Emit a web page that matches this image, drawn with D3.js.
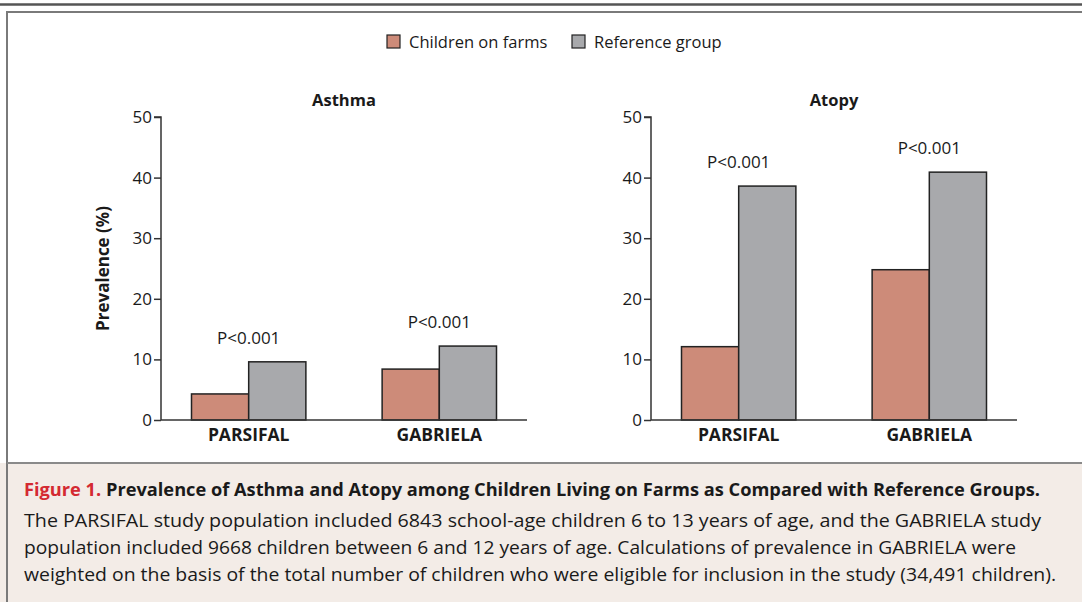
<!DOCTYPE html>
<html>
<head>
<meta charset="utf-8">
<script src="https://cdn.jsdelivr.net/npm/d3@7"></script>
<style>
  body { margin: 0; background: #fff; }
  svg text { font-family: "Open Sans", sans-serif; fill: #1a1a1a; }
</style>
</head>
<body>
<svg id="chart" width="1082" height="602"></svg>
<script>
const studies = ["PARSIFAL", "GABRIELA"];
const groups = ["Children on farms", "Reference group"];
const asthmaFarm = [4.3, 8.4];
const asthmaRef = [9.6, 12.2];
const atopyFarm = [12.1, 24.8];
const atopyRef = [38.6, 40.9];
const pLabels = ["P<0.001", "P<0.001"];
const yTicks = [0, 10, 20, 30, 40, 50];

const captionTitle = "Prevalence of Asthma and Atopy among Children Living on Farms as Compared with Reference Groups.";
const captionLines = [
  "The PARSIFAL study population included 6843 school-age children 6 to 13 years of age, and the GABRIELA study",
  "population included 9668 children between 6 and 12 years of age. Calculations of prevalence in GABRIELA were",
  "weighted on the basis of the total number of children who were eligible for inclusion in the study (34,491 children).",
];

const COLORS = { farm: "#cd8b79", ref: "#a8a9ac" };
const Y0 = 420, Y50 = 117;

const svg = d3.select("#chart");

// frame
svg.append("line").attr("x1", 0).attr("x2", 1082).attr("y1", 4.5).attr("y2", 4.5)
  .attr("stroke", "#555").attr("stroke-width", 2.5);
svg.append("rect").attr("x", 0).attr("y", 463).attr("width", 1082).attr("height", 139)
  .attr("fill", "#f3ece7");
svg.append("path").attr("d", "M7,610 V12 H1090")
  .attr("fill", "none").attr("stroke", "#7a7a7a").attr("stroke-width", 2);
svg.append("line").attr("x1", 7).attr("x2", 1082).attr("y1", 463).attr("y2", 463)
  .attr("stroke", "#8a8a8a").attr("stroke-width", 2);

// legend
const legendX = [387, 572];
const leg = svg.append("g").selectAll("g")
  .data(groups)
  .join("g")
  .attr("transform", (d, i) => `translate(${legendX[i]}, 35)`);
leg.append("rect").attr("width", 13).attr("height", 13)
  .attr("fill", (d, i) => i === 0 ? COLORS.farm : COLORS.ref)
  .attr("stroke", "#222").attr("stroke-width", 1.2);
leg.append("text").attr("x", 22).attr("y", 12.5)
  .style("font-size", "16.5px").text(d => d);

function drawPanel(left, right, title, farm, ref, showYLabel) {
  const g = svg.append("g");
  const y = d3.scaleLinear().domain([0, 50]).range([Y0, Y50]);
  const x0 = d3.scaleBand().domain(studies).range([left, right])
    .paddingInner(0.4).paddingOuter(0.16);
  const x1 = d3.scaleBand().domain(["farm", "ref"]).range([0, x0.bandwidth()]);

  const rows = studies.map((s, i) => ({ study: s, farm: farm[i], ref: ref[i], p: pLabels[i] }));

  const grp = g.selectAll("g.grp")
    .data(rows)
    .join("g")
    .attr("class", "grp")
    .attr("transform", d => `translate(${x0(d.study)},0)`);

  grp.selectAll("rect")
    .data(d => [{ key: "farm", value: d.farm }, { key: "ref", value: d.ref }])
    .join("rect")
    .attr("x", d => x1(d.key))
    .attr("y", d => y(d.value))
    .attr("width", x1.bandwidth())
    .attr("height", d => y(0) - y(d.value))
    .attr("fill", d => COLORS[d.key])
    .attr("stroke", "#222")
    .attr("stroke-width", 1.5);

  grp.append("text")
    .attr("x", x0.bandwidth() / 2)
    .attr("y", d => y(Math.max(d.farm, d.ref)) - 18)
    .attr("text-anchor", "middle")
    .style("font-size", "17px")
    .text(d => d.p);

  // axes
  const yAxis = g.append("g").attr("transform", `translate(${left},0)`)
    .call(d3.axisLeft(y).tickValues(yTicks).tickSize(7).tickPadding(2));
  yAxis.select(".domain").attr("d", `M-7,${Y50}H0V${Y0}`);
  const xAxis = g.append("g").attr("transform", `translate(0,${Y0})`)
    .call(d3.axisBottom(x0).tickSize(0).tickPadding(9));
  xAxis.select(".domain").attr("d", `M${left},0H${right}`);
  g.selectAll(".domain").attr("stroke", "#333").attr("stroke-width", 1.5);
  g.selectAll(".tick line").attr("stroke", "#333").attr("stroke-width", 1.5);
  yAxis.attr("font-size", null);
  yAxis.selectAll("text").style("font-size", "17px").attr("fill", "#1a1a1a")
    .style("font-family", "'Open Sans', sans-serif");
  xAxis.attr("font-size", null);
  xAxis.selectAll("text").style("font-size", "17.5px").style("font-weight", "bold")
    .attr("fill", "#1a1a1a").style("font-family", "'Open Sans', sans-serif");

  g.append("text")
    .attr("x", (left + right) / 2).attr("y", 106)
    .attr("text-anchor", "middle")
    .style("font-size", "16.5px").style("font-weight", "bold")
    .text(title);

  if (showYLabel) {
    g.append("text")
      .attr("transform", `translate(109, ${(Y0 + Y50) / 2}) rotate(-90)`)
      .attr("text-anchor", "middle")
      .style("font-size", "17px").style("font-weight", "bold")
      .text("Prevalence (%)");
  }
}

drawPanel(161, 527, "Asthma", asthmaFarm, asthmaRef, true);
drawPanel(651, 1017, "Atopy", atopyFarm, atopyRef, false);

// caption
const cap = svg.append("g");
const t1 = cap.append("text").attr("x", 24).attr("y", 496)
  .style("font-size", "17.5px").style("font-weight", "bold");
t1.append("tspan").attr("fill", "#d42a32").style("fill", "#d42a32").text("Figure 1. ");
t1.append("tspan").text(captionTitle);
t1.attr("textLength", 1016).attr("lengthAdjust", "spacingAndGlyphs");

cap.selectAll("text.line")
  .data(captionLines)
  .join("text")
  .attr("class", "line")
  .attr("x", 24)
  .attr("y", (d, i) => 527 + i * 27)
  .style("font-size", "17.5px")
  .attr("textLength", (d, i) => [1017, 992, 1032][i])
  .attr("lengthAdjust", "spacingAndGlyphs")
  .text(d => d);
</script>
</body>
</html>
